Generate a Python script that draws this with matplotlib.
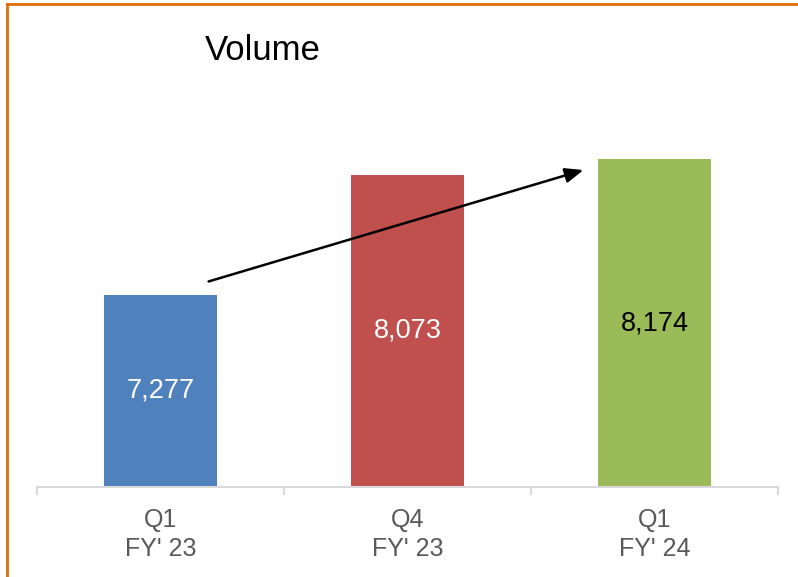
import matplotlib
matplotlib.use("Agg")
import matplotlib.pyplot as plt
from matplotlib.lines import Line2D

plt.rcParams['font.family'] = ['Liberation Sans', 'DejaVu Sans']

categories = ["Q1\nFY' 23", "Q4\nFY' 23", "Q1\nFY' 24"]
values = [7277, 8073, 8174]
labels = ["7,277", "8,073", "8,174"]
colors = ["#4F81BD", "#C0504D", "#9BBB59"]
label_colors = ["white", "white", "black"]

W, H = 798, 577
fig = plt.figure(figsize=(W / 100, H / 100), dpi=100)
ax = fig.add_axes([37 / W, 1 - 487 / H, (778 - 37) / W, (487 - 35) / H])

ymin, ymax = 6000, 9000
x = list(range(len(categories)))
bars = ax.bar(x, [v - ymin for v in values], bottom=ymin, width=0.457, color=colors)
ax.set_ylim(ymin, ymax)
ax.set_xlim(-0.5, len(categories) - 0.5)

for xi, v, lab, c in zip(x, values, labels, label_colors):
    ax.text(xi, (v + ymin) / 2, lab, ha='center', va='center', color=c, fontsize=19.5)

for s in ['top', 'right', 'left']:
    ax.spines[s].set_visible(False)
ax.spines['bottom'].set_color('#D9D9D9')
ax.spines['bottom'].set_linewidth(1.5)
ax.set_yticks([])
ax.set_xticks([-0.5, 0.5, 1.5, 2.5], minor=False)
ax.set_xticklabels([])
ax.tick_params(axis='x', which='major', length=6, width=1.5, color='#D9D9D9')
ax.set_xticks(x, minor=True)
ax.set_xticklabels(categories, minor=True, fontsize=18, color='#595959', linespacing=1.27)
ax.tick_params(axis='x', which='minor', length=0, pad=15)

ax.annotate('', xy=(1.723, 8109), xytext=(0.184, 7359),
            arrowprops=dict(arrowstyle='-|>,head_length=1.1,head_width=0.45', color='black', lw=1.8))

fig.text(205 / W, 1 - 51 / H, "Volume", fontsize=25, ha='left', va='center', color='black')

# orange border (left and top)
fig.add_artist(Line2D([7 / W, 7 / W], [0, 1 - 3.5 / H], transform=fig.transFigure, color='#E36C0A', lw=2))
fig.add_artist(Line2D([7 / W, 1], [1 - 3.5 / H, 1 - 3.5 / H], transform=fig.transFigure, color='#E36C0A', lw=2))

fig.savefig("out.png", dpi=100)
